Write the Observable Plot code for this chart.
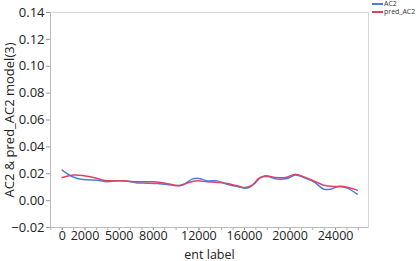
<!DOCTYPE html>
<html>
<head>
<meta charset="utf-8">
<script src="https://cdn.jsdelivr.net/npm/d3@7"></script>
<script src="https://cdn.jsdelivr.net/npm/@observablehq/plot@0.6"></script>
<style>
  body { margin: 0; background: #fff; font-family: "Open Sans", "Noto Sans", sans-serif; }
  #wrap { position: relative; width: 416px; height: 261px; overflow: hidden; }
  #legend { position: absolute; left: 372px; top: 0px; font-size: 7px; color: #333; line-height: 8px; white-space: nowrap; }
  #legend .row { display: flex; align-items: center; height: 8px; }
  #legend .sw { display: inline-block; width: 11px; height: 2px; margin-right: 1px; }
</style>
</head>
<body>
<div id="wrap"><div id="legend"></div></div>
<script>
const seriesNames = ["AC2", "pred_AC2"];
const seriesColors = ["#4a7de6", "#e0435f"];

const ac2X = [0, 730, 1320, 2200, 3070, 3950, 4830, 5710, 6580, 7460, 8340, 9220, 10100, 10680, 11410, 11990, 12730, 13610, 14490, 15360, 16240, 16820, 17410, 18000, 18880, 19750, 20480, 21210, 22090, 22970, 23560, 24280, 25020, 25900];
const ac2Y = [0.0227, 0.0185, 0.0165, 0.0155, 0.0152, 0.0140, 0.0147, 0.0145, 0.0132, 0.0130, 0.0127, 0.0120, 0.0110, 0.0122, 0.0160, 0.0165, 0.0147, 0.0147, 0.0122, 0.0105, 0.0093, 0.0122, 0.0172, 0.0180, 0.0160, 0.0165, 0.0190, 0.0172, 0.0140, 0.0085, 0.0085, 0.0105, 0.0093, 0.0048];

const predX = [0, 1020, 1900, 2770, 3650, 4530, 5410, 6290, 7160, 8040, 8920, 9800, 10390, 11120, 11850, 12730, 13610, 14490, 15360, 16090, 16680, 17260, 17850, 18730, 19610, 20480, 21210, 22090, 22970, 23850, 24720, 25900];
const predY = [0.0172, 0.0190, 0.0185, 0.0172, 0.0152, 0.0147, 0.0147, 0.0140, 0.0140, 0.0140, 0.0132, 0.0117, 0.0112, 0.0135, 0.0147, 0.0140, 0.0135, 0.0127, 0.0110, 0.0097, 0.0115, 0.0165, 0.0185, 0.0172, 0.0172, 0.0197, 0.0177, 0.0147, 0.0115, 0.0105, 0.0105, 0.0078];

const xTicks = [0, 2000, 5000, 8000, 12000, 16000, 20000, 24000];
const yTicks = [-0.02, 0, 0.02, 0.04, 0.06, 0.08, 0.10, 0.12, 0.14];

const data = [
  ...ac2X.map((x, i) => ({x, y: ac2Y[i], s: seriesNames[0]})),
  ...predX.map((x, i) => ({x, y: predY[i], s: seriesNames[1]}))
];
const minorX = d3.range(-1000, 27000, 1000);

const chart = Plot.plot({
  width: 416,
  height: 261,
  marginLeft: 50,
  marginRight: 48,
  marginTop: 12,
  marginBottom: 34,
  style: {fontFamily: "'Open Sans', 'Noto Sans', sans-serif", fontSize: "13px", color: "#222", background: "#fff"},
  x: {domain: [-1030, 26890]},
  y: {domain: [-0.02, 0.14]},
  color: {domain: seriesNames, range: seriesColors},
  marks: [
    Plot.frame({stroke: "#d8d8d8"}),
    Plot.axisY({ticks: yTicks, tickFormat: d3.format(".2f"), tickSize: 4, tickPadding: 2, stroke: "#999", fontSize: 13, label: "AC2 & pred_AC2 model(3)", labelAnchor: "center", labelArrow: "none", labelOffset: 46}),
    Plot.axisX({ticks: minorX, tickSize: 3, tickFormat: () => "", stroke: "#aaa", label: null}),
    Plot.axisX({ticks: xTicks, tickSize: 3, tickPadding: 1, tickFormat: d3.format("d"), stroke: "#999", fontSize: 12.5, label: null}),
    Plot.axisX({ticks: [], label: "ent label", labelAnchor: "center", labelArrow: "none", labelOffset: 31, fontSize: 12.5}),
    Plot.ruleY([-0.02], {stroke: "#bbb"}),
    Plot.ruleX([-1030], {stroke: "#bbb"}),
    Plot.line(data, {x: "x", y: "y", z: "s", stroke: "s", strokeWidth: 1.5, curve: "catmull-rom"})
  ]
});
document.getElementById("wrap").prepend(chart);

const legend = document.getElementById("legend");
seriesNames.forEach((n, i) => {
  const row = document.createElement("div");
  row.className = "row";
  row.innerHTML = `<span class="sw" style="background:${seriesColors[i]}"></span><span>${n}</span>`;
  legend.appendChild(row);
});
</script>
</body>
</html>
